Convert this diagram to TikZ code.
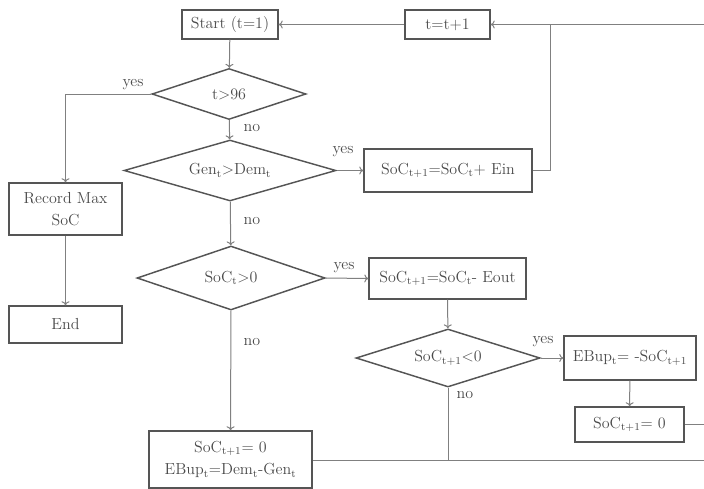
\documentclass[tikz,border=0pt]{standalone}
\usetikzlibrary{shapes.geometric,arrows.meta}
\definecolor{txt}{HTML}{4A4A4A}
\definecolor{boxc}{HTML}{555555}
\definecolor{linec}{HTML}{808080}
\newcommand{\sbs}[1]{\textsubscript{#1}}
\begin{document}
\begin{tikzpicture}[x=0.75pt,y=-0.75pt,
  fnt/.style={font=\fontsize{12}{17}\selectfont},
  box/.style={fnt,draw=boxc,line width=1.1pt,rectangle,inner sep=0pt,text=txt,align=center},
  dia/.style={fnt,draw=boxc,line width=1.1pt,diamond,aspect=3,inner sep=0pt,text=txt},
  con/.style={draw=linec,line width=0.75pt},
  arr/.style={con,-{To[length=3pt,width=6pt]}},
  lbl/.style={fnt,text=txt,inner sep=0pt}]
\useasboundingbox (0,0) rectangle (704,489);
% nodes
\node[box,minimum width=72pt,minimum height=21.75pt] (start) at (230,24.5) {Start (t=1)};
\node[dia,minimum width=115.5pt,minimum height=38.25pt] (t96) at (229,94) {t>96};
\node[dia,minimum width=159pt,minimum height=45.75pt] (gen) at (230,170.5) {Gen\sbs{t}>Dem\sbs{t}};
\node[box,minimum width=84.75pt,minimum height=39pt] (rec) at (65.5,209) {Record Max\\SoC};
\node[box,minimum width=84.75pt,minimum height=27.75pt] (end) at (65.5,324.5) {End};
\node[box,minimum width=63.75pt,minimum height=21.75pt] (tt) at (447.5,24.5) {t=t+1};
\node[box,minimum width=126pt,minimum height=32.25pt] (ein) at (448,170.5) {SoC\sbs{t+1}=SoC\sbs{t}+ Ein};
\node[dia,minimum width=141pt,minimum height=48pt] (soc) at (231,278) {SoC\sbs{t}>0};
\node[box,minimum width=117.75pt,minimum height=30.75pt] (eout) at (447.5,278.5) {SoC\sbs{t+1}=SoC\sbs{t}- Eout};
\node[dia,minimum width=138pt,minimum height=43.5pt] (neg) at (448,358) {SoC\sbs{t+1}<0};
\node[box,minimum width=99pt,minimum height=33pt] (ebup) at (630,358) {EBup\sbs{t}= -SoC\sbs{t+1}};
\node[box,minimum width=81.75pt,minimum height=26.25pt] (zerob) at (629.5,424.5) {SoC\sbs{t+1}= 0};
\node[box,minimum width=122.25pt,minimum height=42.75pt] (zero) at (230.5,459.5) {SoC\sbs{t+1}= 0\\EBup\sbs{t}=Dem\sbs{t}-Gen\sbs{t}};
% free ends
\coordinate (e1) at (704,24.5);
\coordinate (j1) at (550,24.5);
\coordinate (e2) at (704,424.5);
\coordinate (e3) at (704,460);
\coordinate (j2) at (448,460);
% labels
\node[lbl] (l1) at (133,85) {yes};
\node[lbl] (l2) at (252,128) {no};
\node[lbl] (l3) at (343,152) {yes};
\node[lbl] (l4) at (252,221) {no};
\node[lbl] (l5) at (344,268) {yes};
\node[lbl] (l6) at (252,342) {no};
\node[lbl] (l7) at (543,342) {yes};
\node[lbl] (l8) at (465,395) {no};
% connectors
\draw[arr] (start) -- (t96);
\draw[arr] (t96) -- (gen);
\draw[arr] (gen) -- (soc);
\draw[arr] (soc) -- (zero);
\draw[arr] (t96.west) -| (rec.north);
\draw[arr] (rec) -- (end);
\draw[arr] (gen.east) -- (ein.west);
\draw[con] (ein.east) -| (j1);
\draw[arr] (e1) -- (tt.east);
\draw[arr] (tt.west) -- (start.east);
\draw[arr] (soc.east) -- (eout.west);
\draw[arr] (eout) -- (neg);
\draw[arr] (neg.east) -- (ebup.west);
\draw[arr] (ebup) -- (zerob);
\draw[con] (zerob.east) -- (e2);
\draw[con] (neg.south) -- (j2);
\draw[con] (zero.east |- e3) -- (e3);
\end{tikzpicture}
\end{document}
